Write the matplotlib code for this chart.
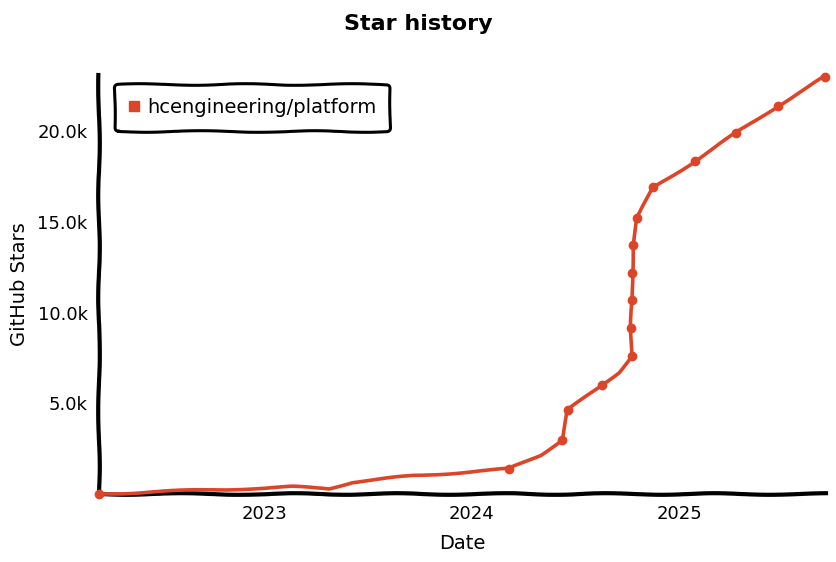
import matplotlib
matplotlib.use("Agg")
import matplotlib.pyplot as plt
import matplotlib.dates as mdates
import matplotlib.ticker as mticker
import pandas as pd

# line path (all points) and star counts in thousands
dates = ["2022-03-16", "2022-09-01", "2023-01-01", "2023-02-20", "2023-04-25",
         "2023-06-05", "2023-09-20", "2024-03-06", "2024-05-01", "2024-06-07",
         "2024-06-18", "2024-08-17", "2024-09-15", "2024-10-08", "2024-10-07",
         "2024-10-09", "2024-10-09", "2024-10-10", "2024-10-18", "2024-11-15",
         "2025-01-28", "2025-04-10", "2025-06-23", "2025-09-13"]
stars = [0.0, 0.2, 0.33, 0.39, 0.3,
         0.66, 1.0, 1.38, 2.15, 2.98,
         4.63, 6.0, 6.7, 7.6, 9.15,
         10.7, 12.2, 13.7, 15.2, 16.9,
         18.35, 19.9, 21.4, 23.0]
# which points carry a marker
marked = [0, 7, 9, 10, 11, 13, 14, 15, 16, 17, 18, 19, 20, 21, 22, 23]

repo = "hcengineering/platform"
red = "#dd4528"

x = pd.to_datetime(dates)
y = [s * 1000 for s in stars]

with plt.xkcd(scale=0.8, length=120, randomness=2):
    plt.rcParams['font.family'] = ['DejaVu Sans']
    plt.rcParams['path.effects'] = []
    fig = plt.figure(figsize=(8.37, 5.62), dpi=100)
    ax = fig.add_axes([0.118, 0.121, 0.869, 0.746])

    ax.plot(x, y, color=red, lw=2.6, solid_capstyle='round', clip_on=False, zorder=3)
    ax.plot(x[marked], [y[i] for i in marked], 'o', color=red, ms=6,
            linestyle='none', clip_on=False, zorder=4)
    ax.plot([], [], 's', color=red, ms=7, label=repo)

    ax.set_xlim(pd.Timestamp("2022-03-16"), pd.Timestamp("2025-09-15"))
    ax.set_ylim(0, 23100)
    ax.xaxis.set_major_locator(mdates.YearLocator())
    ax.xaxis.set_major_formatter(mdates.DateFormatter("%Y"))
    ax.set_yticks([5000, 10000, 15000, 20000])
    ax.yaxis.set_major_formatter(mticker.FuncFormatter(lambda v, p: "%.1fk" % (v / 1000)))
    ax.tick_params(length=0, labelsize=13, pad=8)

    for s in ["top", "right"]:
        ax.spines[s].set_visible(False)
    for s in ["left", "bottom"]:
        ax.spines[s].set_linewidth(3)

    ax.set_xlabel("Date", fontsize=14, labelpad=8)
    ax.set_ylabel("GitHub Stars", fontsize=14, labelpad=6)
    fig.suptitle("Star history", fontsize=16, fontweight="bold", y=0.975)

    leg = ax.legend(loc="upper left", fontsize=14, handlelength=0.6,
                    handletextpad=0.4, borderpad=0.7, fancybox=True,
                    framealpha=1, bbox_to_anchor=(0.008, 1.0))
    leg.get_frame().set_linewidth(2.2)
    leg.get_frame().set_edgecolor("black")

    fig.savefig("out.png", dpi=100)
